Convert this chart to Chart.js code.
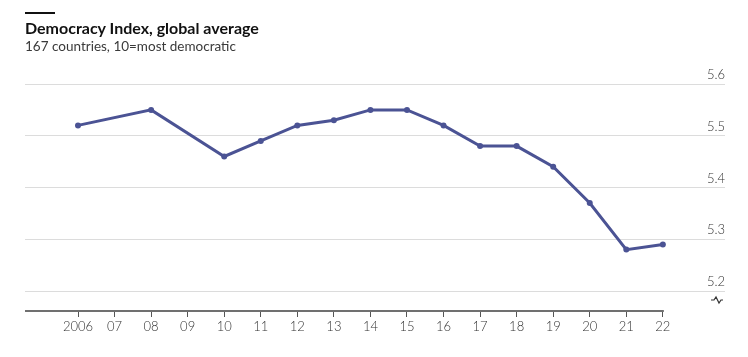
<!DOCTYPE html>
<html>
<head>
<meta charset="utf-8">
<script src="https://cdn.jsdelivr.net/npm/chart.js@4"></script>
<style>
  html, body { margin: 0; padding: 0; background: #ffffff; }
  #wrap { position: relative; width: 748px; height: 357px; }
  #bar { position: absolute; left: 25px; top: 12px; width: 30px; height: 2px; background: #111; }
  #title { position: absolute; left: 25px; top: 18px; font-family: Lato, "Open Sans", sans-serif; font-weight: 700; font-size: 16px; color: #111; white-space: nowrap; }
  #subtitle { position: absolute; left: 25px; top: 38px; font-family: Lato, "Open Sans", sans-serif; font-weight: 400; font-size: 13.5px; color: #3a3a3a; white-space: nowrap; }
  canvas { position: absolute; left: 0; top: 0; }
</style>
</head>
<body>
<div id="wrap">
  <canvas id="c" width="748" height="357"></canvas>
  <div id="bar"></div>
  <div id="title">Democracy Index, global average</div>
  <div id="subtitle">167 countries, 10=most democratic</div>
</div>
<script>
const years = [2006, 2008, 2010, 2011, 2012, 2013, 2014, 2015, 2016, 2017, 2018, 2019, 2020, 2021, 2022];
const indexValues = [5.52, 5.55, 5.46, 5.49, 5.52, 5.53, 5.55, 5.55, 5.52, 5.48, 5.48, 5.44, 5.37, 5.28, 5.29];
const tickYears = [2006, 2007, 2008, 2009, 2010, 2011, 2012, 2013, 2014, 2015, 2016, 2017, 2018, 2019, 2020, 2021, 2022];
const yTicks = [5.2, 5.3, 5.4, 5.5, 5.6];

const axisFont = { family: "Lato, Roboto, sans-serif", size: 13, weight: 300 };

const extras = {
  id: 'extras',
  afterDraw(chart) {
    const ctx = chart.ctx;
    const x = chart.scales.x, y = chart.scales.y;
    const area = chart.chartArea;
    ctx.save();
    // x axis line ending at last year
    ctx.strokeStyle = '#707070';
    ctx.lineWidth = 2;
    ctx.beginPath();
    ctx.moveTo(area.left, area.bottom);
    ctx.lineTo(x.getPixelForValue(2022) + 1, area.bottom);
    ctx.stroke();
    // axis break symbol
    const bx = area.right - 8, by = y.getPixelForValue(5.2) + 9;
    ctx.strokeStyle = '#333';
    ctx.lineWidth = 1.2;
    ctx.beginPath();
    ctx.moveTo(bx - 6, by);
    ctx.lineTo(bx - 3, by);
    ctx.lineTo(bx - 1, by - 3);
    ctx.lineTo(bx + 2, by + 3);
    ctx.lineTo(bx + 4, by);
    ctx.lineTo(bx + 6, by);
    ctx.stroke();
    ctx.restore();
  }
};

new Chart(document.getElementById('c'), {
  type: 'line',
  data: {
    datasets: [{
      data: years.map((yr, i) => ({ x: yr, y: indexValues[i] })),
      borderColor: '#4b5394',
      backgroundColor: '#4b5394',
      borderWidth: 3,
      pointRadius: 3,
      pointBorderWidth: 0,
      tension: 0
    }]
  },
  options: {
    responsive: false,
    animation: false,
    layout: { padding: { left: 25, right: 23, top: 84, bottom: 0 } },
    plugins: { legend: { display: false }, tooltip: { enabled: false } },
    scales: {
      x: {
        type: 'linear',
        min: 2004.55,
        max: 2023.7,
        afterBuildTicks(scale) { scale.ticks = tickYears.map(v => ({ value: v })); },
        afterFit(scale) { scale.height = 46; },
        border: { display: false },
        grid: { drawOnChartArea: false, drawTicks: true, tickLength: 6, color: '#555', lineWidth: 1 },
        ticks: {
          padding: 2,
          maxRotation: 0,
          autoSkip: false,
          color: '#333',
          font: axisFont,
          callback: v => v === 2006 ? '2006' : String(v).slice(2)
        }
      },
      y: {
        position: 'right',
        min: 5.1614,
        max: 5.6,
        afterBuildTicks(scale) { scale.ticks = yTicks.map(v => ({ value: v })); },
        afterFit(scale) { scale.width = 0; },
        border: { display: false },
        grid: { drawTicks: false, color: '#dcdcdc', lineWidth: 1 },
        ticks: {
          mirror: true,
          padding: 0,
          labelOffset: -9,
          color: '#333',
          font: axisFont,
          callback: v => v.toFixed(1)
        }
      }
    }
  },
  plugins: [extras]
});
</script>
</body>
</html>
